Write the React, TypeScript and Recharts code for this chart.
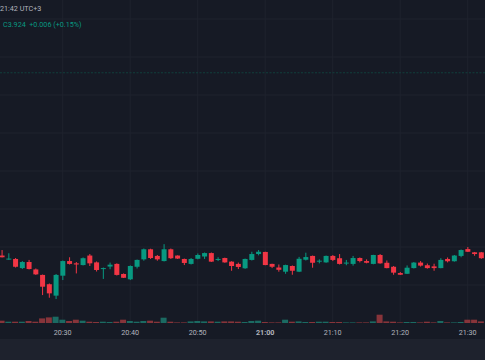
import React from "react";
import { ComposedChart, Bar, XAxis, YAxis, CartesianGrid, ReferenceLine } from "recharts";

// 1-minute candles, 20:21 .. 21:32
const times = [
  "20:21", "20:22", "20:23", "20:24", "20:25", "20:26", "20:27", "20:28", "20:29", "20:30",
  "20:31", "20:32", "20:33", "20:34", "20:35", "20:36", "20:37", "20:38", "20:39", "20:40",
  "20:41", "20:42", "20:43", "20:44", "20:45", "20:46", "20:47", "20:48", "20:49", "20:50",
  "20:51", "20:52", "20:53", "20:54", "20:55", "20:56", "20:57", "20:58", "20:59", "21:00",
  "21:01", "21:02", "21:03", "21:04", "21:05", "21:06", "21:07", "21:08", "21:09", "21:10",
  "21:11", "21:12", "21:13", "21:14", "21:15", "21:16", "21:17", "21:18", "21:19", "21:20",
  "21:21", "21:22", "21:23", "21:24", "21:25", "21:26", "21:27", "21:28", "21:29", "21:30",
  "21:31", "21:32",
];

const opens = [
  3.9255, 3.9234, 3.9237, 3.9189, 3.9221, 3.9182, 3.9153, 3.9104, 3.9044, 3.9149,
  3.9226, 3.9214, 3.9205, 3.9255, 3.9219, 3.9184, 3.9197, 3.9211, 3.9158, 3.913,
  3.9196, 3.9235, 3.9288, 3.9253, 3.9226, 3.9288, 3.9255, 3.9237, 3.9211, 3.9238,
  3.925, 3.9268, 3.9234, 3.9242, 3.9223, 3.9211, 3.9188, 3.9232, 3.9263, 3.9274,
  3.9211, 3.9192, 3.917, 3.92, 3.917, 3.9233, 3.9253, 3.9224, 3.9219, 3.9253,
  3.9241, 3.9216, 3.9211, 3.9242, 3.9226, 3.9211, 3.9258, 3.9217, 3.9196, 3.9163,
  3.9159, 3.9189, 3.9218, 3.9204, 3.9198, 3.9189, 3.9237, 3.9225, 3.9253, 3.9289,
  3.9272, 3.9272,
];

const highs = [
  3.9284, 3.9267, 3.9242, 3.9226, 3.9232, 3.9187, 3.9155, 3.9108, 3.9158, 3.9229,
  3.9246, 3.9221, 3.9245, 3.9263, 3.9224, 3.9192, 3.9218, 3.9214, 3.9161, 3.9203,
  3.9234, 3.9292, 3.9291, 3.9258, 3.9315, 3.9292, 3.9256, 3.9239, 3.9242, 3.9266,
  3.9271, 3.9271, 3.9246, 3.9244, 3.9225, 3.9218, 3.9239, 3.9275, 3.9284, 3.9275,
  3.9212, 3.9208, 3.9207, 3.9203, 3.9248, 3.927, 3.9255, 3.9235, 3.9255, 3.9258,
  3.9263, 3.9232, 3.9253, 3.9245, 3.9235, 3.9259, 3.9263, 3.9229, 3.92, 3.9168,
  3.9203, 3.9221, 3.9226, 3.9213, 3.9212, 3.9241, 3.9245, 3.9258, 3.9287, 3.93,
  3.9274, 3.9274,
];

const lows = [
  3.9245, 3.9233, 3.9192, 3.9184, 3.9182, 3.9153, 3.9047, 3.9033, 3.9026, 3.9126,
  3.9208, 3.9161, 3.9203, 3.92, 3.9171, 3.9132, 3.9183, 3.915, 3.9137, 3.9126,
  3.9187, 3.9228, 3.9237, 3.9228, 3.9224, 3.9237, 3.9237, 3.9205, 3.9208, 3.9235,
  3.9237, 3.9221, 3.9226, 3.9217, 3.9175, 3.9184, 3.9185, 3.9229, 3.9256, 3.9204,
  3.9189, 3.917, 3.9159, 3.9154, 3.9168, 3.9229, 3.9191, 3.9214, 3.9217, 3.9226,
  3.9208, 3.9204, 3.9202, 3.9219, 3.9214, 3.9209, 3.9212, 3.9188, 3.9154, 3.9153,
  3.9158, 3.9187, 3.9197, 3.9186, 3.9175, 3.9188, 3.9219, 3.9223, 3.9246, 3.9274,
  3.9254, 3.9238,
];

const closes = [
  3.9246, 3.9239, 3.9196, 3.9221, 3.9184, 3.9156, 3.9091, 3.9056, 3.9153, 3.9226,
  3.9211, 3.9208, 3.9241, 3.9214, 3.9179, 3.9189, 3.9207, 3.9153, 3.9138, 3.92,
  3.9232, 3.9288, 3.9242, 3.9235, 3.9288, 3.9241, 3.9239, 3.9216, 3.9237, 3.9258,
  3.9268, 3.9223, 3.9237, 3.9219, 3.92, 3.9195, 3.9237, 3.9263, 3.9275, 3.9205,
  3.9196, 3.918, 3.9205, 3.9175, 3.9238, 3.9247, 3.9217, 3.9228, 3.9253, 3.9232,
  3.9211, 3.9218, 3.9242, 3.9226, 3.9217, 3.9258, 3.9214, 3.9189, 3.9165, 3.9154,
  3.9191, 3.9218, 3.9202, 3.9189, 3.9189, 3.9232, 3.9225, 3.9255, 3.9284, 3.9275,
  3.9263, 3.9241,
];

const volumes = [
  23, 13, 13, 13, 20, 13, 46, 56, 63, 33,
  20, 33, 23, 13, 10, 13, 10, 13, 33, 20,
  13, 20, 23, 13, 53, 13, 6, 6, 16, 20,
  16, 16, 13, 16, 16, 13, 10, 20, 23, 10,
  6, 6, 33, 13, 16, 10, 10, 13, 13, 10,
  10, 6, 6, 6, 6, 16, 83, 16, 13, 6,
  10, 10, 6, 13, 6, 20, 6, 6, 10, 33,
  33, 16,
];

const tickLabels = ["20:30", "20:40", "20:50", "21:00", "21:10", "21:20", "21:30"];
const priceGrid = [
  3.9, 3.91, 3.92, 3.93, 3.94, 3.95, 3.96, 3.97, 3.98, 3.99,
  4.0, 4.01, 4.02, 4.03, 4.04, 4.05,
];
const markerPrice = 4.0217;

const BG = "#161a25";
const GRID = "#1f232e";
const UP = "#089981";
const DOWN = "#f23645";
const UP_VOL = "#1b6a62";
const DOWN_VOL = "#87343a";
const TEXT = "#b2b5be";

const toMin = (s: string) => {
  const [h, m] = s.split(":").map(Number);
  return h * 60 + m;
};
const fmt = (v: number) => {
  const h = Math.floor(v / 60);
  const m = Math.round(v - h * 60);
  return `${h}:${m < 10 ? "0" : ""}${m}`;
};

const data = times.map((t, i) => ({
  t: toMin(t),
  open: opens[i],
  high: highs[i],
  low: lows[i],
  close: closes[i],
  vol: volumes[i],
}));

const tickMinutes = tickLabels.map(toMin);
const xDomain = [toMin("20:20") + 0.711, toMin("20:20") + 72.56];

function Candle(props: any) {
  let { x, y, width, height } = props;
  const { open, close, high, low } = props.payload;
  if (height < 0) {
    y += height;
    height = -height;
  }
  const color = close >= open ? UP : DOWN;
  const k = high === low ? 0 : height / (high - low);
  const top = y + (high - Math.max(open, close)) * k;
  const bot = y + (high - Math.min(open, close)) * k;
  const cx = x + width / 2;
  return (
    <g>
      <rect x={cx - 0.5} y={y} width={1} height={Math.max(height, 1)} fill={color} />
      <rect x={x} y={top} width={width} height={Math.max(bot - top, 1)} fill={color} />
    </g>
  );
}

function VolBar(props: any) {
  const { x, y, width, height, payload } = props;
  const color = payload.close >= payload.open ? UP_VOL : DOWN_VOL;
  return <rect x={x} y={y} width={width} height={Math.max(height, 0)} fill={color} />;
}

function TimeTick(props: any) {
  const { x, y, payload } = props;
  const label = fmt(payload.value);
  return (
    <text
      x={x}
      y={y + 9}
      dy="0.35em"
      textAnchor="middle"
      fill={TEXT}
      fontSize={7.2}
      fontWeight={label.endsWith(":00") ? 700 : 400}
    >
      {label}
    </text>
  );
}

export default function App() {
  return (
    <div
      style={{
        position: "absolute",
        left: 0,
        top: 0,
        width: 485,
        height: 360,
        background: BG,
        overflow: "hidden",
        fontFamily: "Roboto, sans-serif",
      }}
    >
      <ComposedChart width={485} height={339} data={data} margin={{ top: 0, right: 0, bottom: 0, left: 0 }}>
        <CartesianGrid stroke={GRID} horizontalValues={priceGrid} verticalValues={tickMinutes} />
        <XAxis
          dataKey="t"
          type="number"
          domain={xDomain}
          ticks={tickMinutes}
          interval={0}
          allowDataOverflow
          axisLine={false}
          tickLine={false}
          tickSize={0}
          tickMargin={0}
          height={16}
          tick={<TimeTick />}
        />
        <XAxis xAxisId="vol" dataKey="t" type="number" domain={xDomain} allowDataOverflow hide />
        <YAxis type="number" domain={[3.89, 4.06]} allowDataOverflow hide />
        <YAxis yAxisId="vol" type="number" domain={[0, 3230]} allowDataOverflow hide />
        <ReferenceLine y={markerPrice} stroke="#113f3c" strokeDasharray="2 1.5" />
        <Bar
          xAxisId="vol"
          yAxisId="vol"
          dataKey="vol"
          barSize={6}
          shape={<VolBar />}
          isAnimationActive={false}
        />
        <Bar
          dataKey={(d: any) => [d.low, d.high]}
          barSize={5}
          shape={<Candle />}
          isAnimationActive={false}
        />
      </ComposedChart>
      <div style={{ position: "absolute", left: 0, top: 339, width: 485, height: 21, background: "#1e222d" }} />
      <div style={{ position: "absolute", left: 0, top: 4, fontSize: 7.2, color: TEXT, whiteSpace: "nowrap" }}>
        21:42 UTC+3
      </div>
      <div style={{ position: "absolute", left: 3, top: 20, fontSize: 7.2, color: UP, whiteSpace: "nowrap" }}>
        C3.924&nbsp; +0.006 (+0.15%)
      </div>
    </div>
  );
}
